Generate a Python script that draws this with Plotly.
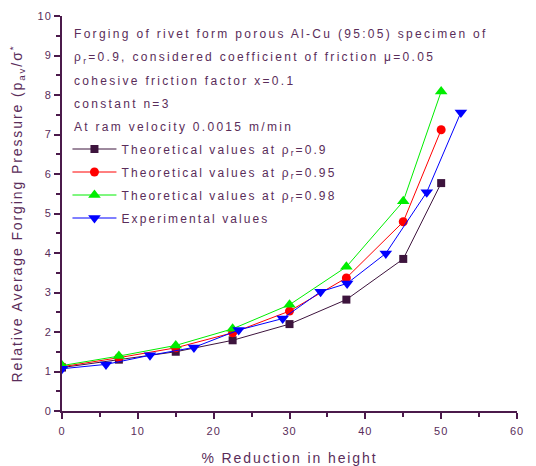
import plotly.graph_objects as go

x_theo = [0, 7.5, 15, 22.5, 30, 37.5, 45, 50]
y_rho090 = [1.10, 1.30, 1.50, 1.79, 2.20, 2.82, 3.85, 5.77]
y_rho095 = [1.12, 1.35, 1.60, 1.98, 2.53, 3.37, 4.79, 7.12]
y_rho098 = [1.15, 1.39, 1.66, 2.08, 2.69, 3.65, 5.31, 8.09]
x_exp = [0, 5.8, 11.6, 17.4, 23.3, 29.1, 34.1, 37.6, 42.7, 48.1, 52.6]
y_exp = [1.07, 1.18, 1.41, 1.61, 2.05, 2.34, 3.02, 3.23, 3.99, 5.54, 7.56]

names = ["Theoretical values at ρ<sub>r</sub>=0.9",
         "Theoretical values at ρ<sub>r</sub>=0.95",
         "Theoretical values at ρ<sub>r</sub>=0.98",
         "Experimental values"]
notes = ["Forging of rivet form porous Al-Cu (95:05) specimen of",
         "ρ<sub>r</sub>=0.9, considered coefficient of friction μ=0.05",
         "cohesive friction factor x=0.1",
         "constant n=3",
         "At ram velocity 0.0015 m/min"]

AX = "#4b1a4b"
TXT = "#5a2d5a"
FONT = "Liberation Sans, Arial, sans-serif"

fig = go.Figure()
series = [
    (x_theo, y_rho090, "#3d143d", "square", 8),
    (x_theo, y_rho095, "#ff0000", "circle", 9),
    (x_theo, y_rho098, "#00ee00", "triangle-up", 11),
    (x_exp, y_exp, "#0000ff", "triangle-down", 11),
]
for i, (xs, ys, c, sym, sz) in enumerate(series):
    fig.add_trace(go.Scatter(x=xs, y=ys, mode="lines+markers", name=names[i],
                             legendgroup=str(i),
                             line=dict(color=c, width=1),
                             marker=dict(symbol=sym, size=sz, color=c)))

ys_notes = [0.954, 0.894, 0.835, 0.777, 0.719]
for t, yy in zip(notes, ys_notes):
    fig.add_annotation(x=0.022, y=yy, xref="paper", yref="paper", text=t,
                       showarrow=False, xanchor="left", yanchor="middle", align="left",
                       font=dict(family=FONT, size=12, color=TXT))

axis_common = dict(showline=True, linecolor=AX, linewidth=2, ticks="outside",
                   tickcolor=AX, tickwidth=2, ticklen=6, showgrid=False,
                   zeroline=False, mirror=False,
                   tickfont=dict(family=FONT, size=11, color=TXT))

fig.update_layout(
    width=536, height=466,
    margin=dict(l=62, r=19, t=16, b=55, autoexpand=False),
    paper_bgcolor="white", plot_bgcolor="white",
    font=dict(family=FONT, color=TXT),
    showlegend=True,
    legend=dict(x=0.012, y=0.70, xanchor="left", yanchor="top",
                bgcolor="rgba(0,0,0,0)", tracegroupgap=4, itemwidth=44,
                font=dict(family=FONT, size=12, color=TXT)),
    xaxis=dict(range=[0, 60], tickvals=[0, 10, 20, 30, 40, 50, 60],
               ticklabelstandoff=3,
               minor=dict(tickvals=[5, 15, 25, 35, 45, 55], ticks="outside",
                          ticklen=4, tickcolor=AX, tickwidth=2),
               title=dict(text="% Reduction in height", standoff=18,
                          font=dict(family=FONT, size=14, color=TXT)),
               **axis_common),
    yaxis=dict(range=[0, 10], tickvals=list(range(0, 11)),
               minor=dict(tickvals=[i + 0.5 for i in range(10)], ticks="outside",
                          ticklen=4, tickcolor=AX, tickwidth=2),
               title=dict(text="Relative Average Forging Pressure (p<sub>av</sub>/σ<sup>*</sup>",
                          standoff=14, font=dict(family=FONT, size=14, color=TXT)),
               **axis_common),
)

post = """
var s=document.createElement('style');
s.innerHTML='.annotation-text{letter-spacing:2.3px}.legendtext{letter-spacing:2.1px}'+
'.xtitle,.ytitle{letter-spacing:1.9px}.xtick text,.ytick text{letter-spacing:1px}';
document.head.appendChild(s);
var gd=document.getElementById('{plot_id}');
gd.querySelectorAll('.legend [clip-path], .legend').forEach(function(e){e.removeAttribute('clip-path');});
"""
fig.write_html("out.html", post_script=post)
